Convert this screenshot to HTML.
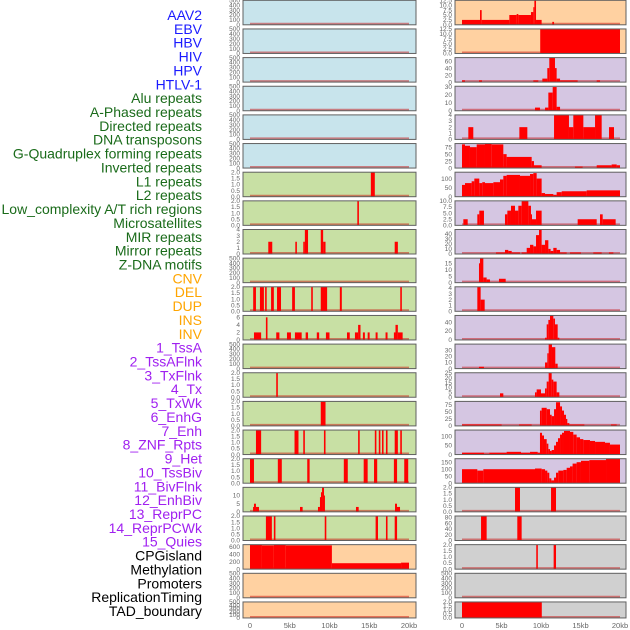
<!DOCTYPE html>
<html><head><meta charset="utf-8"><style>
body{margin:0;background:#fff;}
svg{display:block;font-family:"Liberation Sans",sans-serif;}
</style></head><body>
<svg id="chart" width="630" height="630" viewBox="0 0 630 630">
<g id="labels"></g>
<g id="panels"></g>
<g id="xaxes"></g>
</svg>
<script>
const trackLabels = ["AAV2","EBV","HBV","HIV","HPV","HTLV-1","Alu repeats","A-Phased repeats","Directed repeats","DNA transposons","G-Quadruplex forming repeats","Inverted repeats","L1 repeats","L2 repeats","Low_complexity A/T rich regions","Microsatellites","MIR repeats","Mirror repeats","Z-DNA motifs","CNV","DEL","DUP","INS","INV","1_TssA","2_TssAFlnk","3_TxFlnk","4_Tx","5_TxWk","6_EnhG","7_Enh","8_ZNF_Rpts","9_Het","10_TssBiv","11_BivFlnk","12_EnhBiv","13_ReprPC","14_ReprPCWk","15_Quies","CPGisland","Methylation","Promoters","ReplicationTiming","TAD_boundary"];
const labelGroups = [6,13,5,15,5];
const groupColors = ["#1a1aff","#1a6b1a","#ffa500","#a020f0","#000000"];

const E=[0,100,200,300,400,500], T2=[0,0.5,1,1.5,2];
const leftTicks=[E,E,E,E,E,E,T2,T2,[0,1,2,3,4],E,T2,[0,2,4,6],E,T2,T2,T2,T2,[0,5,10],T2,[0,200,400,600],E,E];
const leftMax=[500,500,500,500,500,500,2,2,4,500,2,6.5,500,2,2,2,2,15,2,660,500,500];
const leftBg=["b","b","b","b","b","b","g","g","g","g","g","g","g","g","g","g","g","g","g","o","o","o"];
const leftSegs=[[],[],[],[],[],[],
[[15.2,15.7,2]],
[[13.5,13.7,2]],
[[2.3,2.8,2],[5.7,5.9,2],[6.7,6.9,2],[6.9,7.3,4],[8.9,9.2,4],[9.2,9.5,2],[18.2,18.6,2]],
[],
[[0.4,0.75,2],[1.25,1.75,2],[1.9,2.1,2],[2.65,3.0,2],[3.4,3.9,2],[5.3,5.65,2],[7.7,7.9,2],[8.9,9.7,2],[11.3,11.55,2],[18.9,19.1,2]],
[[0.5,1.4,2],[2.0,2.2,6],[3.3,3.7,2],[4.65,5.15,2],[5.65,6.5,2],[7.0,7.3,2],[8.4,8.7,2],[9.55,10.0,2],[12.2,12.55,2],[13.2,13.6,2],[13.6,13.9,4],[14.2,14.45,2],[14.8,15.05,2],[15.8,16.05,2],[17.05,17.3,2],[18.1,18.3,2],[18.3,18.6,4],[18.6,19.2,2]],
[],
[[3.3,3.5,2]],
[[8.9,9.5,2]],
[[0.75,1.4,2],[5.6,6.1,2],[6.7,6.9,2],[9.3,9.5,2],[13.6,13.8,2],[15.7,15.9,2],[16.2,16.4,2],[16.6,16.8,2],[17.1,17.3,2],[18.2,18.6,2],[18.9,19.1,2]],
[[0,0.5,2],[3.5,4.0,2],[7.2,7.5,2],[11.8,12.3,2],[14.3,14.8,2],[15.6,16.0,2],[18.1,18.5,2],[19.4,19.9,2]],
[[0.38,0.5,3],[0.5,0.75,5],[0.75,1.13,3],[6.29,6.62,3],[8.55,8.8,3],[8.8,8.93,9],[8.93,9.06,12],[9.06,9.31,15],[9.31,9.43,10],[13.33,13.67,3],[18.24,18.49,5],[18.49,18.87,3]],
[[2.0,2.75,2],[3.0,3.2,2],[9.4,9.6,2],[15.8,16.1,2],[17.1,17.3,2],[18.2,18.5,2]],
[[0,1.5,650],[1.5,3.0,640],[3.0,4.5,650],[4.5,10.3,640],[10.3,19.0,160],[19.0,20.0,175]],
[],[]];

const rightTicks=[[0,2.5,5,7.5,10,12.5],[0,2.5,5,7.5,10,12.5],[0,20,40,60],[0,10,20,30],[0,1,2,3,4],[0,25,50,75],[0,50,100],[0,2.5,5,7.5,10],[0,10,20,30,40],[0,5,10,15],[0,1,2,3,4],[0,20,40],[0,10,20,30],[0,5,10,15,20,25],[0,25,50,75],[0,50,100],[0,50,100,150],T2,[0,20,40,60,80],T2,E,T2];
const rightMax=[12.5,12.5,70,31,4,88,135,10,48,19,4.2,55,40,25,88,135,175,2,85,2,500,2];
const rightBg=["o","o","p","p","p","p","p","p","p","p","p","p","p","p","p","p","p","y","y","y","y","y"];
const rightSegs=[
[[0,2.28,2.5],[2.28,2.49,7.5],[2.49,5.99,2.5],[5.99,6.92,5],[6.92,7.13,5.5],[7.13,8.73,5],[8.73,9.03,6.5],[9.03,9.16,9],[9.16,9.37,12.5],[9.37,10.08,2.5],[11.43,11.65,1.5]],
[[9.9,20,12.5]],
[[0,0.38,5],[2.15,2.53,5],[9.03,9.66,5],[10.17,10.8,10],[10.8,11.05,40],[11.05,11.77,70],[11.77,11.98,40],[11.98,12.41,10],[12.41,14.64,5],[17.05,17.47,5]],
[[9.24,9.87,4],[10.51,10.93,4],[10.93,11.48,23],[11.48,11.98,30],[11.98,12.41,5]],
[[0.8,1.43,2],[7.26,8.27,2],[11.65,13.54,4],[13.54,14.09,2],[14.09,15.36,4],[15.36,16.84,2],[16.84,17.68,4],[18.61,19.24,2]],
[[0,0.38,85],[0.38,1.01,80],[1.01,1.86,75],[1.86,2.91,85],[2.91,3.76,88],[3.76,5.23,85],[5.23,5.65,50],[5.65,8.82,40],[8.82,9.11,25],[9.11,10.08,10],[14.3,15.27,5],[17.05,18.94,10],[18.94,19.58,13],[19.58,20,10]],
[[0,0.38,65],[0.38,1.22,75],[1.22,1.56,85],[1.56,2.19,100],[2.19,2.57,75],[2.57,2.91,80],[2.91,3.97,75],[3.97,4.81,80],[4.81,5.23,95],[5.23,5.65,115],[5.65,7.34,120],[7.34,8.61,115],[8.61,9.03,125],[9.03,9.45,130],[9.45,10.08,100],[10.08,10.51,20],[10.51,11.56,15],[11.56,11.98,10],[11.98,12.62,25],[12.62,15.78,30],[15.78,20,35]],
[[0.17,0.72,2.5],[1.94,2.19,4.5],[2.19,2.78,6],[5.44,5.74,4.5],[5.74,6.2,6],[6.2,6.71,8],[6.71,7.13,6],[7.13,7.55,8],[7.55,8.4,10],[8.4,8.73,8],[8.73,8.86,4.5],[8.86,9.37,2.5],[9.37,10.08,6],[14.64,17.05,2.5],[17.47,17.81,4.5],[17.81,19.45,2.5]],
[[4.3,5.44,3],[5.44,5.86,8],[5.86,6.29,6],[6.29,7.34,3],[7.55,8.19,3],[8.19,8.61,12],[8.61,9.03,18],[9.03,9.37,15],[9.37,9.75,37],[9.75,10.08,48],[10.08,10.51,18],[10.51,10.93,27],[10.93,11.22,10],[11.22,11.56,6],[11.56,11.98,12],[11.98,12.41,8],[12.41,13.25,3],[13.67,15.06,3],[16.62,17.68,3],[18.6,19.16,3]],
[[2.15,2.28,15],[2.28,2.7,19],[2.7,3.12,4],[3.12,3.54,2.5],[4.68,5.53,3]],
[[1.94,2.36,4.2],[2.36,2.87,2]],
[[10.51,10.72,5],[10.72,10.93,35],[10.93,11.14,45],[11.14,11.56,55],[11.56,11.77,48],[11.77,12.11,35],[12.11,12.32,5]],
[[2.15,2.78,3],[10.51,10.8,10],[10.8,10.97,25],[10.97,11.39,40],[11.39,11.81,35],[11.81,12.11,8]],
[[4.81,5.23,4],[9.24,9.45,5],[9.45,10.0,8],[10.0,10.51,4],[10.51,10.72,9],[10.72,10.97,16],[10.97,11.35,25],[11.35,11.56,18],[11.56,11.98,16],[11.98,12.32,5]],
[[0,5.02,5],[7.22,8.82,5],[9.87,10.08,55],[10.08,10.72,65],[10.72,11.14,60],[11.14,11.35,40],[11.35,11.65,35],[11.65,11.9,60],[11.9,12.41,85],[12.41,12.66,70],[12.66,12.91,55],[12.91,13.16,40],[13.16,13.33,25],[13.33,13.59,10],[13.59,15.49,5],[18.86,19.58,5]],
[[0,2.78,10],[2.78,3.46,5],[3.46,5.65,10],[5.65,7.47,15],[7.47,8.61,10],[8.61,9.58,15],[9.58,9.87,10],[9.87,10.13,120],[10.13,10.38,105],[10.38,10.72,85],[10.72,10.93,60],[10.93,11.14,30],[11.14,11.35,20],[11.35,11.65,25],[11.65,11.9,50],[11.9,12.15,70],[12.15,12.41,90],[12.41,12.66,110],[12.66,12.91,120],[12.91,13.67,130],[13.67,14.09,125],[14.09,14.51,110],[14.51,14.94,95],[14.94,15.36,85],[15.36,16.2,80],[16.2,16.84,75],[16.84,18.1,70],[18.1,18.73,65],[18.73,20,55]],
[[0,1.94,100],[1.94,2.7,90],[2.7,9.24,100],[9.24,10.08,105],[10.08,10.51,100],[10.51,10.8,90],[10.8,11.05,75],[11.05,11.31,35],[11.31,11.65,20],[11.65,11.9,40],[11.9,12.19,75],[12.19,12.83,90],[12.83,13.25,95],[13.25,13.67,110],[13.67,14.0,120],[14.0,14.51,140],[14.51,15.06,150],[15.06,16.12,160],[16.12,18.23,165],[18.23,20,175]],
[[6.71,7.34,2],[11.27,11.9,2]],
[[2.41,3.12,85],[7.0,7.55,85]],
[[9.4,9.6,2],[11.6,11.9,2]],
[],
[[0,10.1,2]]];

const xTickVals=[0,5,10,15,20];
const xTickLabels=["0","5kb","10kb","15kb","20kb"];

const NS="http://www.w3.org/2000/svg";
const bgColors={b:"#c8e4ec",g:"#c8e0a4",o:"#ffd1a1",p:"#d5c6e2",y:"#d0d0d0"};
function mk(tag,attrs,parent){const e=document.createElementNS(NS,tag);for(const k in attrs)e.setAttribute(k,attrs[k]);parent.appendChild(e);return e;}
function rowTop(i){return 0.3+i*28.65;}
function rowH(i){return i===21?16:24.5;}

// labels
const lg=document.getElementById('labels');
let li=0;
labelGroups.forEach((n,g)=>{for(let k=0;k<n;k++){const y=15+li*(596/(trackLabels.length-1));
const t=mk('text',{x:202,y:y+5,'text-anchor':'end','font-size':14,fill:groupColors[g]},lg);
t.textContent=trackLabels[li];


li++;}});

const pg=document.getElementById('panels');
function drawPanel(side,i,x0,x1,z0,z20,ticks,ymax,bg,segs){
  const top=rowTop(i),h=rowH(i),bot=top+h;
  const xs=kb=>z0+(z20-z0)*kb/20;
  const ys=v=>bot-(v/ymax)*h;
  const g=mk('g',{},pg);
  
  
  mk('rect',{x:x0,y:top,width:x1-x0,height:h,fill:bgColors[bg]},g);
  mk('line',{x1:xs(0),x2:xs(20),y1:bot-1,y2:bot-1,stroke:"rgba(200,0,0,0.45)","stroke-width":2},g);
  segs.forEach(s=>{
    const r=mk('rect',{x:xs(s[0]),y:ys(s[2]),width:Math.max(0.8,xs(s[1])-xs(s[0])),height:bot-ys(s[2]),fill:"#ff0000"},g);
    
    
  });
  mk('rect',{x:x0,y:top,width:x1-x0,height:h,fill:"none",stroke:"#606060","stroke-width":1},g);
  const dec=ticks.some(t=>t%1!==0);
  ticks.forEach(t=>{
    const tx=mk('text',{x:x0-3,y:ys(t)+2.2,'text-anchor':'end','font-size':6.5,fill:"#666"},g);
    tx.textContent=dec?t.toFixed(1):String(t);
    
    
  });
}
for(let i=0;i<22;i++){
  drawPanel('left',i,243,416,250,409,leftTicks[i],leftMax[i],leftBg[i],leftSegs[i]);
  drawPanel('right',i,455,626,462,620,rightTicks[i],rightMax[i],rightBg[i],rightSegs[i]);
}
const xg=document.getElementById('xaxes');
[[250,409],[462,620]].forEach(([z0,z20])=>{
  xTickVals.forEach((v,k)=>{
    const t=mk('text',{x:z0+(z20-z0)*v/20,y:628,'text-anchor':'middle','font-size':7.5,fill:"#666"},xg);
    t.textContent=xTickLabels[k];
    
    
  });
});
</script>
</body></html>
